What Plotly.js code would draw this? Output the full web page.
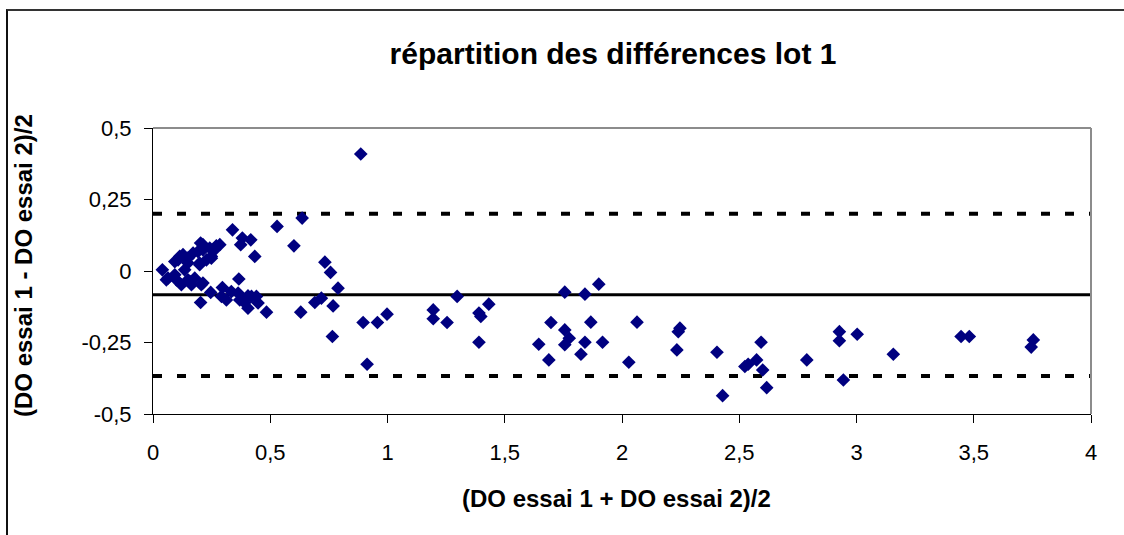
<!DOCTYPE html>
<html>
<head>
<meta charset="utf-8">
<script src="https://cdn.plot.ly/plotly-3.0.1.min.js"></script>
<style>
  html, body { margin: 0; padding: 0; background: #fff; }
  #chart { width: 1124px; height: 535px; position: absolute; left: 0; top: 0; }
  #frame { position: absolute; left: 6px; top: 9px; width: 2000px; height: 2000px;
           border-left: 2px solid #111; border-top: 2px solid #333; pointer-events: none; }
</style>
</head>
<body>
<div id="chart"></div>
<div id="frame"></div>
<script>
// Mean of the two trials (x) and half difference (y)
const meanValues = [
  0.040, 0.057, 0.064, 0.093, 0.093, 0.100, 0.107, 0.114, 0.121, 0.128,
  0.135, 0.149, 0.149, 0.149, 0.157, 0.164, 0.171, 0.178, 0.192, 0.199,
  0.199, 0.203, 0.203, 0.206, 0.213, 0.213, 0.213, 0.228, 0.242, 0.246,
  0.249, 0.249, 0.263, 0.270, 0.285, 0.292, 0.296, 0.313, 0.334, 0.339,
  0.363, 0.366, 0.370, 0.374, 0.381, 0.391, 0.405, 0.405, 0.417, 0.420,
  0.434, 0.441, 0.448, 0.484, 0.529, 0.601, 0.630, 0.636, 0.690, 0.718,
  0.733, 0.757, 0.765, 0.768, 0.789, 0.886, 0.896, 0.913, 0.957, 0.998,
  1.195, 1.195, 1.254, 1.297, 1.390, 1.398, 1.432, 1.390, 1.645, 1.688,
  1.697, 1.756, 1.756, 1.775, 1.756, 1.842, 1.901, 1.867, 1.842, 1.825,
  1.917, 2.029, 2.064, 2.247, 2.240, 2.234, 2.405, 2.429, 2.524, 2.538,
  2.574, 2.593, 2.600, 2.617, 2.788, 2.927, 2.927, 2.944, 3.003, 3.157,
  3.446, 3.481, 3.745, 3.754
];
const diffValues = [
  0.004, -0.031, -0.025, 0.033, -0.013, -0.031, 0.039, 0.051, -0.048, 0.057,
  0.004, 0.028, 0.045, -0.031, -0.036, -0.048, 0.063, -0.025, 0.068, 0.022,
  0.028, 0.098, -0.110, -0.048, 0.074, 0.092, -0.042, 0.039, 0.080, -0.075,
  0.045, 0.051, 0.074, 0.088, 0.092, -0.089, -0.058, -0.101, -0.072, 0.144,
  -0.077, -0.028, -0.101, 0.092, 0.115, -0.111, -0.087, -0.130, 0.109, -0.089,
  0.051, -0.089, -0.112, -0.144, 0.156, 0.088, -0.144, 0.185, -0.110, -0.095,
  0.031, -0.005, -0.229, -0.122, -0.060, 0.409, -0.180, -0.326, -0.180, -0.151,
  -0.136, -0.167, -0.180, -0.089, -0.147, -0.159, -0.116, -0.249, -0.256, -0.311,
  -0.180, -0.074, -0.206, -0.235, -0.258, -0.081, -0.046, -0.179, -0.249, -0.291,
  -0.249, -0.319, -0.179, -0.200, -0.212, -0.276, -0.284, -0.436, -0.334, -0.326,
  -0.311, -0.249, -0.346, -0.408, -0.311, -0.212, -0.244, -0.381, -0.221, -0.291,
  -0.229, -0.229, -0.266, -0.241
];

// Mean difference and limits of agreement
const meanDifference = -0.083;
const upperLimit = 0.200;
const lowerLimit = -0.367;

const xTickValues = [0, 0.5, 1, 1.5, 2, 2.5, 3, 3.5, 4];
const xTickLabels = ['0', '0,5', '1', '1,5', '2', '2,5', '3', '3,5', '4'];
const yTickValues = [-0.5, -0.25, 0, 0.25, 0.5];
const yTickLabels = ['-0,5', '-0,25', '0', '0,25', '0,5'];

const titleText = 'répartition des différences lot 1';
const xTitleText = '(DO essai 1 + DO essai 2)/2';
const yTitleText = '(DO essai 1 - DO essai 2)/2';

const FONT = 'Arial, "Liberation Sans", sans-serif';

const trace = {
  type: 'scatter',
  mode: 'markers',
  x: meanValues,
  y: diffValues,
  marker: { symbol: 'diamond', color: '#000080', size: 10.5, line: { width: 0 } },
  hoverinfo: 'x+y',
  showlegend: false
};

function hLine(yv, dash, width) {
  return {
    type: 'line', xref: 'paper', yref: 'y', x0: 0, x1: 1, y0: yv, y1: yv,
    line: { color: '#000', width: width, dash: dash }, layer: 'below'
  };
}

const layout = {
  width: 1124,
  height: 535,
  margin: { l: 153, r: 33, t: 128, b: 121, pad: 0 },
  paper_bgcolor: '#fff',
  plot_bgcolor: '#fff',
  font: { family: FONT, color: '#000', size: 22 },
  title: {
    text: '<b>' + titleText + '</b>',
    font: { family: FONT, size: 30, color: '#000' },
    x: 613 / 1124, xref: 'container', xanchor: 'center',
    y: 1 - 53 / 535, yref: 'container', yanchor: 'middle'
  },
  xaxis: {
    range: [0, 4],
    tickvals: xTickValues,
    ticktext: xTickLabels,
    ticks: 'outside', ticklen: 8, tickwidth: 1, tickcolor: '#000',
    ticklabelstandoff: 11,
    showline: true, linecolor: '#000', linewidth: 1,
    showgrid: false, zeroline: false,
    tickfont: { family: FONT, size: 22, color: '#000' },
    fixedrange: true
  },
  yaxis: {
    range: [-0.5, 0.5],
    tickvals: yTickValues,
    ticktext: yTickLabels,
    ticks: 'outside', ticklen: 8, tickwidth: 1, tickcolor: '#000',
    ticklabelstandoff: 8,
    showline: true, linecolor: '#000', linewidth: 1,
    showgrid: false, zeroline: false,
    tickfont: { family: FONT, size: 22, color: '#000' },
    fixedrange: true
  },
  shapes: [
    hLine(meanDifference, 'solid', 3),
    hLine(upperLimit, '9px,15px', 4),
    hLine(lowerLimit, '9px,15px', 4),
    { type: 'line', xref: 'paper', yref: 'paper', x0: 0, x1: 1, y0: 1, y1: 1,
      line: { color: '#8c8c8c', width: 2 } },
    { type: 'line', xref: 'paper', yref: 'paper', x0: 1, x1: 1, y0: 0, y1: 1,
      line: { color: '#8c8c8c', width: 2 } }
  ],
  annotations: [
    { text: '<b>' + xTitleText + '</b>', xref: 'paper', yref: 'paper',
      x: (616 - 153) / 938, y: (414 - 499) / 286, xanchor: 'center', yanchor: 'middle',
      showarrow: false, font: { family: FONT, size: 24, color: '#000' } },
    { text: '<b>' + yTitleText + '</b>', xref: 'paper', yref: 'paper',
      x: (23 - 153) / 938, y: (414 - 266) / 286, xanchor: 'center', yanchor: 'middle',
      textangle: -90, showarrow: false, font: { family: FONT, size: 24, color: '#000' } }
  ]
};

Plotly.newPlot('chart', [trace], layout, { displayModeBar: false, staticPlot: false });
</script>
</body>
</html>
